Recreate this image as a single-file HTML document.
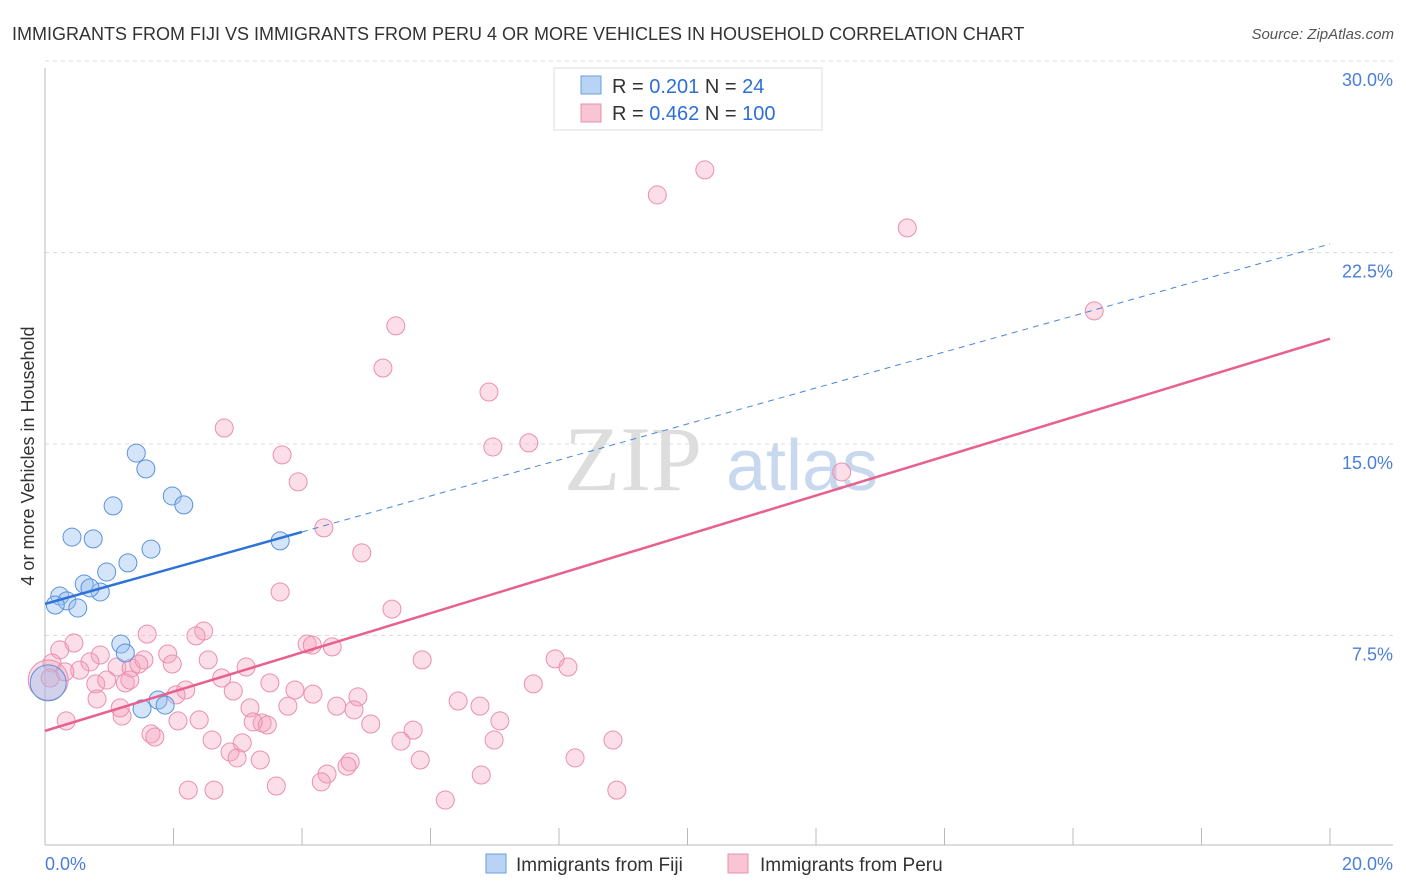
<!DOCTYPE html>
<html><head><meta charset="utf-8">
<style>
body{margin:0;background:#fff;font-family:"Liberation Sans",sans-serif;}
svg{display:block}
</style></head>
<body>
<svg id="chart" width="1406" height="892">
<text x="12" y="40" font-size="18" fill="#333">IMMIGRANTS FROM FIJI VS IMMIGRANTS FROM PERU 4 OR MORE VEHICLES IN HOUSEHOLD CORRELATION CHART</text>
<text x="1394" y="39" font-size="15" fill="#555" font-style="italic" text-anchor="end">Source: ZipAtlas.com</text>
<text transform="translate(34,456) rotate(-90)" font-size="18" fill="#333" text-anchor="middle">4 or more Vehicles in Household</text>
<g>
<text x="633" y="490" font-size="92" fill="#ddd" font-family="Liberation Serif" text-anchor="middle">ZIP</text>
<text x="802" y="490" font-size="72" fill="#c8d8ee" text-anchor="middle">atlas</text>
</g>
<g id="grid"></g>
<g id="axes"></g>
<g id="marks"></g>
<g>
<rect x="554" y="68" width="268" height="62" fill="#fff" stroke="#ddd"/>
<rect x="581" y="76" width="20" height="18" fill="#b9d3f5" stroke="#6a9ee0"/>
<rect x="581" y="104" width="20" height="18" fill="#f9c4d4" stroke="#e890ac"/>
<text x="612" y="93" font-size="20" fill="#333">R = <tspan fill="#2e6fd6">0.201</tspan>   N = <tspan fill="#2e6fd6">  24</tspan></text>
<text x="612" y="120" font-size="20" fill="#333">R = <tspan fill="#2e6fd6">0.462</tspan>   N = <tspan fill="#2e6fd6">100</tspan></text>
</g>
<g>
<rect x="486" y="854" width="20" height="19" fill="#b9d3f5" stroke="#6a9ee0"/>
<text x="516" y="871" font-size="19" fill="#333">Immigrants from Fiji</text>
<rect x="728" y="854" width="20" height="19" fill="#f9c4d4" stroke="#e890ac"/>
<text x="760" y="871" font-size="19" fill="#333">Immigrants from Peru</text>
</g>
</svg>
<script>
const fijiX=[1.42,1.57,1.98,2.16,1.06,0.42,0.75,1.65,1.29,0.96,0.61,0.86,0.70,0.23,0.34,0.16,0.51,3.66,1.18,1.25,1.76,1.87,1.51,0.05];
const fijiY=[15.35,14.73,13.67,13.32,13.28,12.06,11.99,11.59,11.05,10.69,10.22,9.91,10.07,9.75,9.56,9.40,9.28,11.91,7.87,7.52,5.68,5.48,5.33,6.35];
const peruX=[10.27,9.53,13.42,16.33,5.46,5.26,6.91,2.79,6.97,7.53,12.40,3.69,3.94,4.34,4.93,3.66,5.40,1.59,2.47,2.35,1.91,4.08,4.16,4.47,5.87,7.94,8.14,2.54,3.13,1.98,0.45,0.23,0.86,0.70,1.12,1.34,1.54,1.46,0.54,0.11,0.05,0.79,0.96,1.25,0.81,1.32,3.50,2.75,2.93,2.19,2.04,3.89,4.17,4.87,4.81,4.54,3.78,3.19,3.38,3.46,3.24,2.40,2.07,1.20,0.33,1.65,1.71,2.60,3.07,2.88,2.99,3.35,5.07,5.73,6.43,6.77,7.08,7.60,5.54,6.99,8.84,4.75,4.70,4.39,4.30,5.84,6.79,8.25,2.23,2.63,3.60,6.23,8.90,0.31,0.08,1.17];
const peruY=[26.44,25.46,24.17,20.92,20.33,18.68,17.74,16.33,15.59,15.75,14.61,15.28,14.22,12.42,11.44,9.91,9.24,8.26,8.38,8.19,7.48,7.87,7.83,7.76,7.25,7.29,6.97,7.25,6.97,7.09,7.91,7.64,7.44,7.17,6.97,6.93,7.25,7.09,6.85,7.13,6.46,6.31,6.46,6.35,5.72,6.46,6.35,6.54,6.03,6.07,5.88,6.07,5.91,5.80,5.29,5.44,5.44,5.37,4.78,4.70,4.82,4.90,4.86,5.05,4.86,4.35,4.23,4.11,4.00,3.64,3.41,3.33,4.74,4.50,5.64,5.44,4.86,6.31,4.07,4.11,4.11,3.25,3.09,2.78,2.47,3.33,2.74,3.41,2.15,2.15,2.31,1.76,2.15,6.78,6.54,5.37];
const yTicks=[7.5,15.0,22.5,30.0];
const xTickVals=[0,2,4,6,8,10,12,14,16,18,20];
const fijiTrend=[9.44,0.705];
const peruTrend=[4.47,0.768];

const NS="http://www.w3.org/2000/svg";
const X0=45,X1=1330,Y0=845,PXY=25.533;
const sx=v=>X0+(X1-X0)*v/20;
const sy=v=>Y0-v*PXY;
function mk(tag,attrs,parent){const e=document.createElementNS(NS,tag);for(const k in attrs)e.setAttribute(k,attrs[k]);parent.appendChild(e);return e;}
const grid=document.getElementById('grid'),axes=document.getElementById('axes'),marks=document.getElementById('marks');
yTicks.forEach(t=>{
  const l=mk('line',{x1:X0,x2:1393,y1:sy(t)-18,y2:sy(t)-18,stroke:'#ddd','stroke-dasharray':'4,4'},grid);
  
  
  const tx=mk('text',{x:1393,y:sy(t)-18+25,'font-size':18,fill:'#4a7fd6','text-anchor':'end'},axes);
  tx.textContent=t.toFixed(1)+'%';
  
  
});
mk('line',{x1:X0,x2:X0,y1:68,y2:Y0,stroke:'#bbb'},axes);
mk('line',{x1:X0,x2:1393,y1:Y0,y2:Y0,stroke:'#bbb'},axes);
xTickVals.forEach(t=>{
  const l=mk('line',{x1:sx(t),x2:sx(t),y1:828,y2:Y0,stroke:'#bbb'},axes);
  
  
});
const xl=mk('text',{x:45,y:870,'font-size':18,fill:'#4a7fd6'},axes);xl.textContent='0.0%';


const xr=mk('text',{x:1393,y:870,'font-size':18,fill:'#4a7fd6','text-anchor':'end'},axes);xr.textContent='20.0%';



peruX.forEach((v,i)=>{
  const r=(i==40)?20:9;
  const c=mk('circle',{cx:sx(v),cy:sy(peruY[i]),r:r,fill:'rgba(244,160,188,0.35)',stroke:'#eb8fae','stroke-width':1},marks);
  
  
});
fijiX.forEach((v,i)=>{
  const r=(i==23)?18:9;
  const c=mk('circle',{cx:sx(v),cy:sy(fijiY[i]),r:r,fill:'rgba(150,190,240,0.4)',stroke:'#5b92dc','stroke-width':1},marks);
  
  
});
const pl=mk('line',{x1:sx(0),y1:sy(peruTrend[0]),x2:sx(20),y2:sy(peruTrend[0]+20*peruTrend[1]),stroke:'#e8608e','stroke-width':2.5},marks);


const fl=mk('line',{x1:sx(0),y1:sy(fijiTrend[0]),x2:sx(4),y2:sy(fijiTrend[0]+4*fijiTrend[1]),stroke:'#2e72d8','stroke-width':2.5},marks);


const fd=mk('line',{x1:sx(4),y1:sy(fijiTrend[0]+4*fijiTrend[1]),x2:sx(20),y2:sy(fijiTrend[0]+20*fijiTrend[1]),stroke:'#4a86dc','stroke-width':1,'stroke-dasharray':'6,5'},marks);


</script>
</body></html>
